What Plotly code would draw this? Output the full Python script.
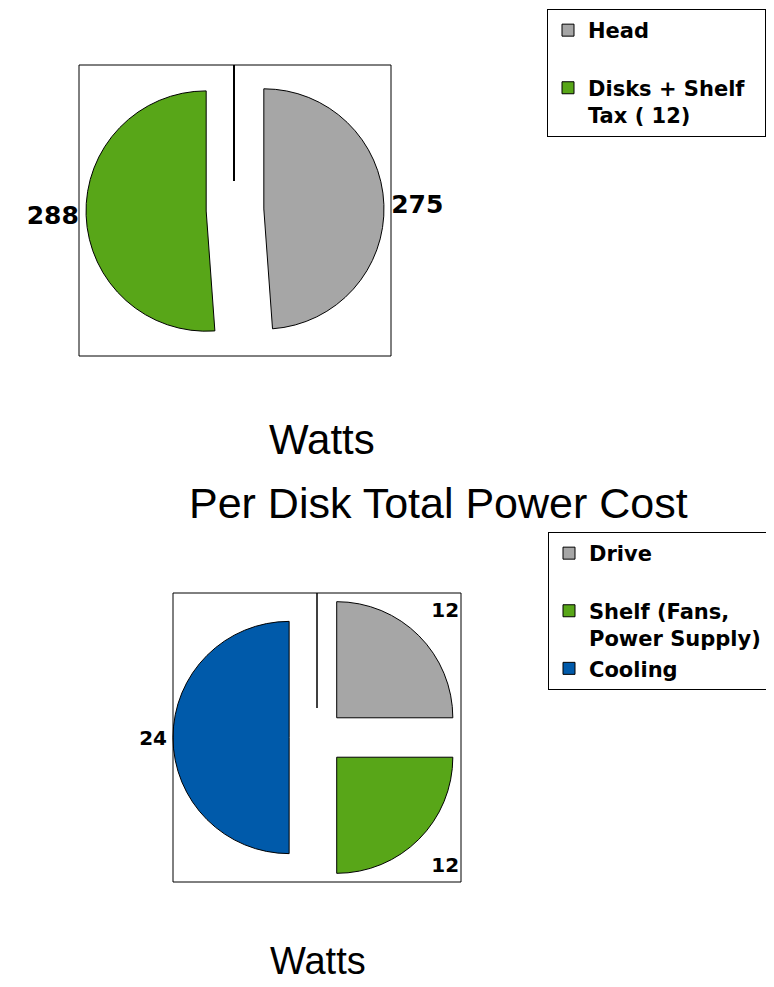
import plotly.graph_objects as go

# ---- data ----
top_labels = ["Head<br> ", "Disks + Shelf\u00a0\u00a0<br>Tax ( 12)"]
top_values = [275, 288]
top_colors = ["#A6A6A6", "#58A618"]

bottom_labels = ["Drive<br> ", "Shelf (Fans,<br>Power Supply)\u00a0", "Cooling"]
bottom_values = [12, 12, 24]
bottom_colors = ["#A6A6A6", "#58A618", "#005AAA"]

title_text = "Per Disk Total Power Cost"
unit_text = "Watts"

# ---- layout helpers (reference pixel -> paper fraction; page has 8px body margin) ----
OFF = 8
FW, FH = 774 - OFF, 987 - OFF


def px(x):
    return (x - OFF) / FW


def py(y):
    return 1 - (y - OFF) / FH


BOLD = dict(family="DejaVu Sans", color="black", weight="bold")
REG = dict(family="Liberation Sans, Arial, sans-serif", color="black")

fig = go.Figure()

fig.add_trace(go.Pie(
    labels=top_labels, values=top_values, sort=False,
    direction="clockwise", rotation=0, pull=0.24,
    marker=dict(colors=top_colors, line=dict(color="black", width=1)),
    textinfo="value", textposition="outside",
    outsidetextfont=dict(size=25, **BOLD),
    domain=dict(x=[px(79), px(391)], y=[py(359), py(61)]),
    legend="legend", hoverinfo="label+value",
))

fig.add_trace(go.Pie(
    labels=bottom_labels, values=bottom_values, sort=False,
    direction="clockwise", rotation=0, pull=0.24,
    marker=dict(colors=bottom_colors, line=dict(color="black", width=1)),
    texttemplate=["%{value}<br> ", " <br>%{value}", "%{value}"],
    textposition="outside",
    outsidetextfont=dict(size=20, **BOLD),
    domain=dict(x=[px(173), px(461)], y=[py(882), py(593)]),
    legend="legend2", hoverinfo="label+value",
))

legend_common = dict(
    xanchor="left", yanchor="top", bordercolor="black", borderwidth=1,
    bgcolor="white", font=dict(size=21, **BOLD), valign="top",
    traceorder="normal",
)

shapes = [
    dict(type="rect", xref="paper", yref="paper", x0=px(79), x1=px(391),
         y0=py(356), y1=py(65), line=dict(color="black", width=1)),
    dict(type="rect", xref="paper", yref="paper", x0=px(173), x1=px(461),
         y0=py(882), y1=py(593), line=dict(color="black", width=1)),
    dict(type="line", xref="paper", yref="paper", x0=px(234), x1=px(234),
         y0=py(65), y1=py(181), line=dict(color="black", width=2)),
    dict(type="line", xref="paper", yref="paper", x0=px(317), x1=px(317),
         y0=py(593), y1=py(708), line=dict(color="black", width=1.5)),
]

annotations = [
    dict(text=unit_text, x=px(322), y=py(439), xref="paper", yref="paper",
         showarrow=False, xanchor="center", yanchor="middle",
         font=dict(size=42, **REG)),
    dict(text=title_text, x=px(438), y=py(503), xref="paper", yref="paper",
         showarrow=False, xanchor="center", yanchor="middle",
         font=dict(size=43, **REG)),
    dict(text=unit_text, x=px(318), y=py(961), xref="paper", yref="paper",
         showarrow=False, xanchor="center", yanchor="middle",
         font=dict(size=38, **REG)),
]

fig.update_layout(
    width=FW, height=FH,
    margin=dict(l=0, r=0, t=0, b=0, autoexpand=False),
    paper_bgcolor="white", plot_bgcolor="white",
    legend=dict(x=px(547), y=py(9), **legend_common),
    legend2=dict(x=px(548), y=py(532), **legend_common),
    shapes=shapes, annotations=annotations,
)

fig.write_html("out.html")
